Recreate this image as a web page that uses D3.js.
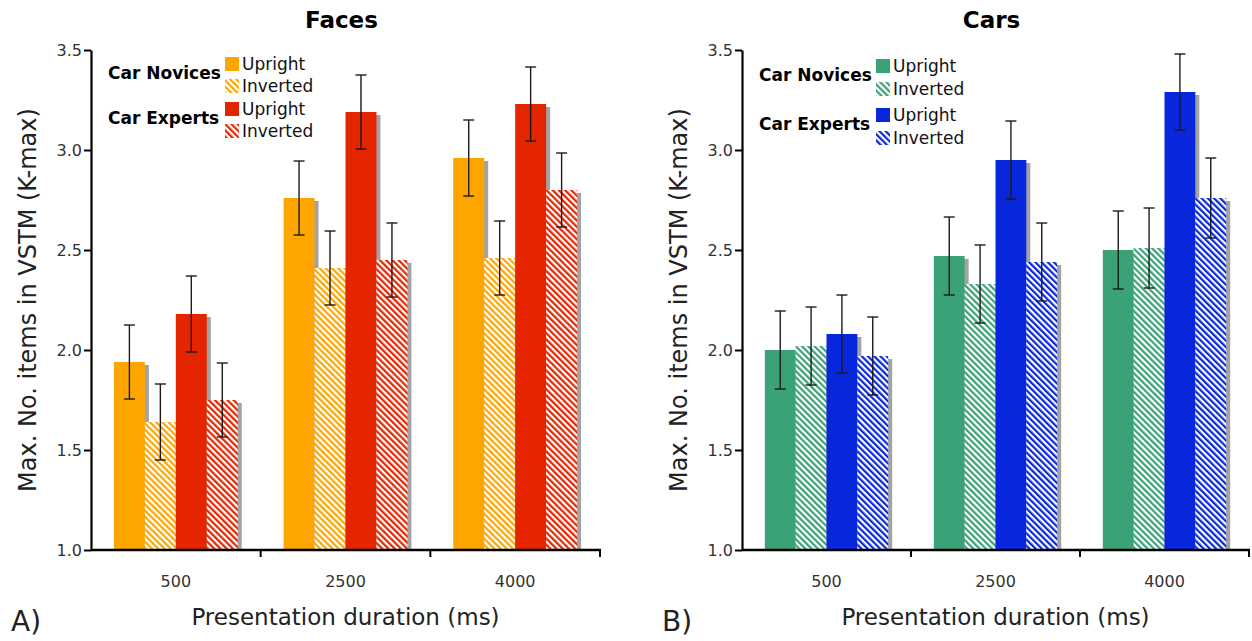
<!DOCTYPE html>
<html>
<head>
<meta charset="utf-8">
<script src="https://cdn.jsdelivr.net/npm/d3@7"></script>
<style>
  body { margin: 0; background: #fff; }
  svg { font-family: "DejaVu Sans", Verdana, sans-serif; }
</style>
</head>
<body>
<div id="chart"></div>
<script>
const durations = ['500', '2500', '4000'];
const conditions = ['novUp', 'novInv', 'expUp', 'expInv'];
const yTicks = [1.0, 1.5, 2.0, 2.5, 3.0, 3.5];

// Faces panel, rows = durations, cols = conditions
const facesMeans = [
  [1.94, 1.64, 2.18, 1.75],
  [2.76, 2.41, 3.19, 2.45],
  [2.96, 2.46, 3.23, 2.80]
];
const facesErr = [
  [0.185, 0.19, 0.19, 0.185],
  [0.185, 0.185, 0.185, 0.185],
  [0.19, 0.185, 0.185, 0.185]
];

// Cars panel
const carsMeans = [
  [2.00, 2.02, 2.08, 1.97],
  [2.47, 2.33, 2.95, 2.44],
  [2.50, 2.51, 3.29, 2.76]
];
const carsErr = [
  [0.195, 0.195, 0.195, 0.195],
  [0.195, 0.195, 0.195, 0.195],
  [0.195, 0.2, 0.19, 0.2]
];

const W = 1252, H = 641;
const svg = d3.select('#chart').append('svg')
  .attr('width', W)
  .attr('height', H);

const defs = svg.append('defs');

function hatch(id, color) {
  const p = defs.append('pattern')
    .attr('id', id)
    .attr('patternUnits', 'userSpaceOnUse')
    .attr('width', 4.4)
    .attr('height', 10)
    .attr('patternTransform', 'rotate(-45)');
  p.append('rect').attr('width', 4.4).attr('height', 10).attr('fill', '#fff');
  p.append('rect').attr('width', 2.2).attr('height', 10).attr('fill', color);
}

function drawPanel(cfg) {
  const { x0, x1, title, means, errs, colors, label, legend } = cfg;
  const g = svg.append('g');

  const y = d3.scaleLinear().domain([1.0, 3.5]).range([550, 50]);
  const xBand = d3.scaleBand().domain(durations).range([x0, x1]).padding(0);
  const xSub = d3.scaleBand().domain(conditions)
    .range([0, xBand.bandwidth()])
    .paddingInner(0)
    .paddingOuter(0.74);

  hatch(cfg.id + 'novHatch', colors[0]);
  hatch(cfg.id + 'expHatch', colors[1]);
  const fills = [colors[0], `url(#${cfg.id}novHatch)`, colors[1], `url(#${cfg.id}expHatch)`];

  const rows = [];
  durations.forEach((d, i) => {
    conditions.forEach((c, j) => {
      rows.push({ dur: d, cond: c, idx: j, value: means[i][j], err: errs[i][j] });
    });
  });

  // shadows
  g.append('g').selectAll('rect')
    .data(rows)
    .join('rect')
    .attr('x', d => xBand(d.dur) + xSub(d.cond) + 4)
    .attr('y', d => y(d.value) + 3)
    .attr('width', xSub.bandwidth())
    .attr('height', d => y(1.0) - y(d.value) - 3)
    .attr('fill', '#a3a3a3');

  // bars
  g.append('g').selectAll('rect')
    .data(rows)
    .join('rect')
    .attr('x', d => xBand(d.dur) + xSub(d.cond))
    .attr('y', d => y(d.value))
    .attr('width', xSub.bandwidth())
    .attr('height', d => y(1.0) - y(d.value))
    .attr('fill', d => fills[d.idx]);

  // error bars
  const eb = g.append('g').attr('stroke', '#1a1a1a').attr('stroke-width', 1.4);
  rows.forEach(d => {
    const cx = xBand(d.dur) + xSub(d.cond) + xSub.bandwidth() / 2;
    eb.append('line').attr('x1', cx).attr('x2', cx)
      .attr('y1', y(d.value + d.err)).attr('y2', y(d.value - d.err));
    [d.value + d.err, d.value - d.err].forEach(v => {
      eb.append('line').attr('x1', cx - 5.5).attr('x2', cx + 5.5)
        .attr('y1', y(v)).attr('y2', y(v));
    });
  });

  // y axis
  const yAxis = g.append('g')
    .attr('transform', `translate(${x0},0)`)
    .call(d3.axisLeft(y).tickValues(yTicks).tickFormat(d3.format('.1f')).tickSize(7).tickSizeOuter(0));
  yAxis.select('.domain').attr('stroke', '#000').attr('stroke-width', 2.2);
  yAxis.selectAll('.tick line').attr('stroke', '#000').attr('stroke-width', 2);
  yAxis.selectAll('.tick text')
    .attr('font-size', 16)
    .attr('fill', '#333')
    .attr('x', -9)
    .attr('font-family', '"DejaVu Sans", sans-serif');

  // x axis: ticks at band boundaries
  const xAxisG = g.append('g').attr('transform', 'translate(0,550)');
  xAxisG.append('line')
    .attr('x1', x0).attr('x2', x1 + 1)
    .attr('stroke', '#000').attr('stroke-width', 2.4);
  const bounds = durations.map(d => xBand(d) + xBand.bandwidth());
  xAxisG.selectAll('line.tk')
    .data(bounds)
    .join('line')
    .attr('class', 'tk')
    .attr('x1', d => d).attr('x2', d => d)
    .attr('y1', 0).attr('y2', 7)
    .attr('stroke', '#000').attr('stroke-width', 2);
  xAxisG.selectAll('text')
    .data(durations)
    .join('text')
    .attr('x', d => xBand(d) + xBand.bandwidth() / 2)
    .attr('y', 37)
    .attr('text-anchor', 'middle')
    .attr('font-size', 16)
    .attr('fill', '#333')
    .text(d => d);

  // titles and labels
  g.append('text')
    .attr('x', (x0 + x1) / 2 - 4)
    .attr('y', 28)
    .attr('text-anchor', 'middle')
    .attr('font-size', 23)
    .attr('font-weight', 'bold')
    .text(title);

  g.append('text')
    .attr('transform', `translate(${x0 - 55},300) rotate(-90)`)
    .attr('text-anchor', 'middle')
    .attr('font-size', 24)
    .attr('fill', '#222')
    .text('Max. No. items in VSTM (K-max)');

  g.append('text')
    .attr('x', (x0 + x1) / 2)
    .attr('y', 625)
    .attr('text-anchor', 'middle')
    .attr('font-size', 23)
    .attr('fill', '#222')
    .text('Presentation duration (ms)');

  g.append('text')
    .attr('x', x0 - 80)
    .attr('y', 631)
    .attr('font-size', 28)
    .attr('fill', '#222')
    .text(label);

  // legend
  const lg = g.append('g');
  const groups = ['Car Novices', 'Car Experts'];
  groups.forEach((name, k) => {
    const top = legend.top + k * legend.gap;
    lg.append('text')
      .attr('x', legend.textX)
      .attr('y', top + 22)
      .attr('font-size', 17)
      .attr('font-weight', 'bold')
      .text(name);
    ['Upright', 'Inverted'].forEach((t, m) => {
      const sy = top + m * legend.rowGap;
      lg.append('rect')
        .attr('x', legend.swX)
        .attr('y', sy)
        .attr('width', 14)
        .attr('height', 14)
        .attr('fill', fills[k * 2 + m]);
      lg.append('text')
        .attr('x', legend.swX + 17)
        .attr('y', sy + 13)
        .attr('font-size', 17)
        .attr('fill', '#111')
        .text(t);
    });
  });
}

drawPanel({
  id: 'f',
  x0: 91, x1: 600,
  title: 'Faces',
  means: facesMeans,
  errs: facesErr,
  colors: ['#ffa500', '#e52400'],
  label: 'A)',
  legend: { top: 57, gap: 45, rowGap: 22, textX: 108, swX: 225 }
});

drawPanel({
  id: 'c',
  x0: 742, x1: 1249,
  title: 'Cars',
  means: carsMeans,
  errs: carsErr,
  colors: ['#3aa276', '#0826dc'],
  label: 'B)',
  legend: { top: 59, gap: 49, rowGap: 23, textX: 759, swX: 876 }
});
</script>
</body>
</html>
